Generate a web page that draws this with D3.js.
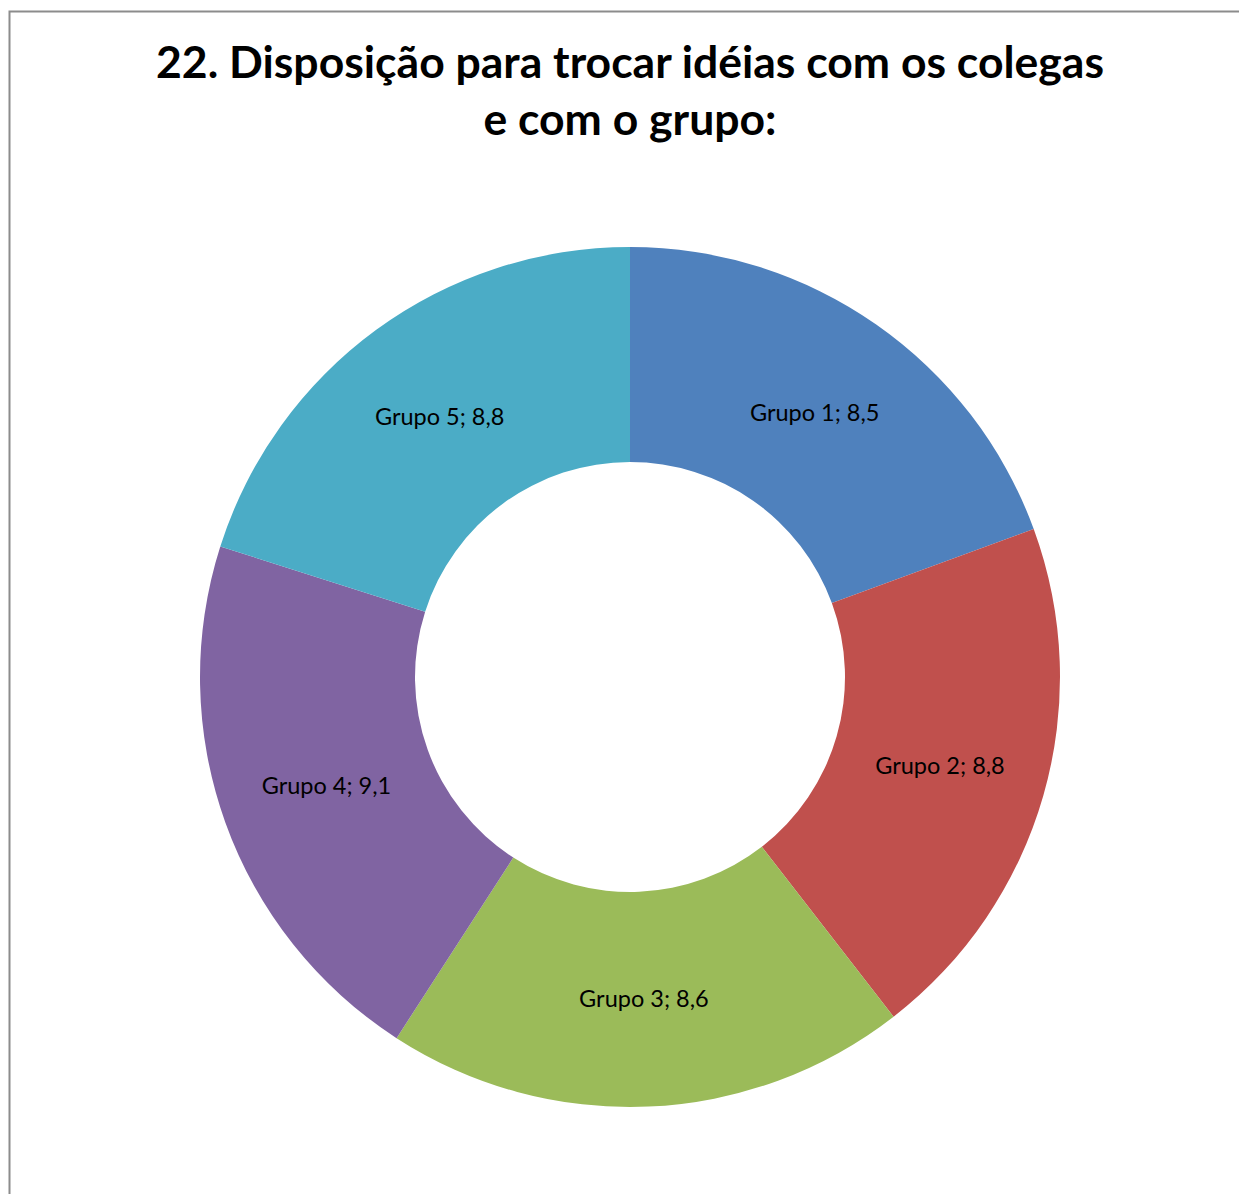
<!DOCTYPE html>
<html>
<head>
<meta charset="utf-8">
<script src="https://cdn.jsdelivr.net/npm/d3@7"></script>
<style>
  body { margin: 0; background: #fff; }
  svg { display: block; }
</style>
</head>
<body>
<div id="content"></div>
<script>
var grupos = ["Grupo 1", "Grupo 2", "Grupo 3", "Grupo 4", "Grupo 5"];
var valores = [8.5, 8.8, 8.6, 9.1, 8.8];
var cores = ["#4F81BD", "#C0504D", "#9BBB59", "#8064A2", "#4BACC6"];
var tituloLinhas = ["22. Disposição para trocar idéias com os colegas", "e com o grupo:"];

var width = 1239, height = 1194;
var svg = d3.select("#content").append("svg")
    .attr("width", width).attr("height", height);

// moldura (só esquerda, topo e direita visíveis)
svg.append("rect")
    .attr("x", 9.5).attr("y", 11.5)
    .attr("width", 1240).attr("height", 1200)
    .attr("fill", "#fff")
    .attr("stroke", "#8c8c8c")
    .attr("stroke-width", 2);

var titulo = svg.append("text")
    .attr("text-anchor", "middle")
    .style("font-family", "Lato, 'Open Sans', sans-serif")
    .style("font-weight", "bold")
    .style("font-size", "44.5px")
    .attr("fill", "#000");

titulo.selectAll("tspan")
    .data(tituloLinhas)
    .enter().append("tspan")
    .attr("x", 630)
    .attr("y", function(d, i) { return 78 + i * 57; })
    .text(function(d) { return d; });

var cx = 630, cy = 677, outerR = 430, innerR = 215;

var dados = grupos.map(function(g, i) { return { nome: g, valor: valores[i], cor: cores[i] }; });

var pie = d3.pie().sort(null).value(function(d) { return d.valor; });
var arc = d3.arc().innerRadius(innerR).outerRadius(outerR);

var g = svg.append("g").attr("transform", "translate(" + cx + "," + cy + ")");

var fatias = pie(dados);

g.selectAll("path")
    .data(fatias)
    .enter().append("path")
    .attr("d", arc)
    .attr("fill", function(d) { return d.data.cor; });

g.selectAll("text.rotulo")
    .data(fatias)
    .enter().append("text")
    .attr("class", "rotulo")
    .attr("transform", function(d) { return "translate(" + arc.centroid(d) + ")"; })
    .attr("text-anchor", "middle")
    .attr("dy", "0.35em")
    .style("font-family", "Lato, 'Open Sans', sans-serif")
    .style("font-size", "23.5px")
    .attr("fill", "#000")
    .text(function(d) { return d.data.nome + "; " + String(d.data.valor).replace(".", ","); });
</script>
</body>
</html>
